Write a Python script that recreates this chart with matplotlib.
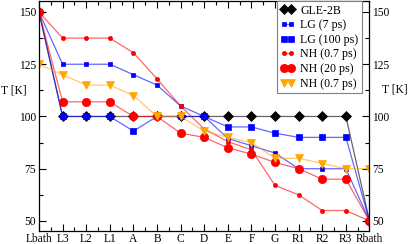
import matplotlib
matplotlib.use("Agg")
import matplotlib.pyplot as plt
from matplotlib.ticker import MultipleLocator, FixedLocator

plt.rcParams['font.family'] = ['Liberation Serif', 'DejaVu Serif']

categories = ["Lbath", "L3", "L2", "L1", "A", "B", "C", "D", "E", "F", "G", "R1", "R2", "R3", "Rbath"]
gle_2b   = [150, 100, 100, 100, 100, 100, 100, 100, 100, 100, 100, 100, 100, 100, 50]
lg_7ps   = [150, 125, 125, 125, 120, 115, 105, 100, 89.5, 86, 82.5, 75, 75, 75, 50]
lg_100ps = [150, 100, 100, 100, 93, 100, 100, 100, 95, 95, 92, 90, 90, 90, 50]
nh_07ps  = [150, 137.5, 137.5, 137.5, 130.5, 118, 105, 94, 88, 84, 67, 62.5, 55, 55, 50]
nh_20ps  = [150, 107, 107, 107, 100, 100, 92, 90, 85, 82, 78, 75, 70, 70, 50]
nh_07ps_b = [125, 120, 115, 115, 110, 100, 100, 93, 90, 87.5, 80, 80, 77.5, 75, 75]

series = [
    ("GLE-2B", gle_2b, (0, 0, 0), 'D', 5.0),
    ("LG (7 ps)", lg_7ps, (0, 0, 1), 's', 3.0),
    ("LG (100 ps)", lg_100ps, (0, 0, 1), 's', 5.0),
    ("NH (0.7 ps)", nh_07ps, (1, 0, 0), 'o', 3.0),
    ("NH (20 ps)", nh_20ps, (1, 0, 0), 'o', 6.0),
    ("NH (0.7 ps)", nh_07ps_b, (1, 0.65, 0), 'v', 6.0),
]

fig = plt.figure(figsize=(4.09, 2.44), dpi=100)
ax = fig.add_axes([39 / 409, 13 / 244, 330.5 / 409, 230.5 / 244])

x = list(range(len(categories)))
for label, vals, col, mk, ms in series:
    ax.plot(x, vals, color=col + (0.6,), linewidth=0.9, marker=mk, markersize=ms,
            markerfacecolor=col, markeredgecolor=col, markeredgewidth=0.5, label=label)

ax.set_xlim(0, len(categories) - 1)
ax.set_ylim(45.2, 155.5)
ax.set_xticks(x)
ax.set_xticklabels(categories)
ax.xaxis.set_minor_locator(FixedLocator([i + 0.5 for i in x[:-1]]))
ax.yaxis.set_major_locator(MultipleLocator(25))
ax.yaxis.set_minor_locator(MultipleLocator(12.5))
ax.tick_params(which='both', direction='in', top=True, right=True, labelright=True,
               labelsize=8.3, pad=2, colors='black')
ax.tick_params(which='major', length=5, width=0.8)
ax.tick_params(which='minor', length=3, width=0.8)
ax.tick_params(axis='x', pad=1.5)
for s in ax.spines.values():
    s.set_linewidth(0.9)

fig.text(1 / 409, 1 - 90 / 244, "T [K]", ha='left', va='center', fontsize=8.3)
fig.text(408 / 409, 1 - 89 / 244, "T [K]", ha='right', va='center', fontsize=8.3)

leg = ax.legend(loc='upper right', bbox_to_anchor=(0.977, 0.998), borderaxespad=0,
                fontsize=8.6, numpoints=2, handlelength=1.2, handletextpad=0.45,
                labelspacing=0.22, borderpad=0.3, fancybox=False, framealpha=1,
                edgecolor='#808080')
leg.get_frame().set_linewidth(0.8)

fig.savefig("out.png", dpi=100)
